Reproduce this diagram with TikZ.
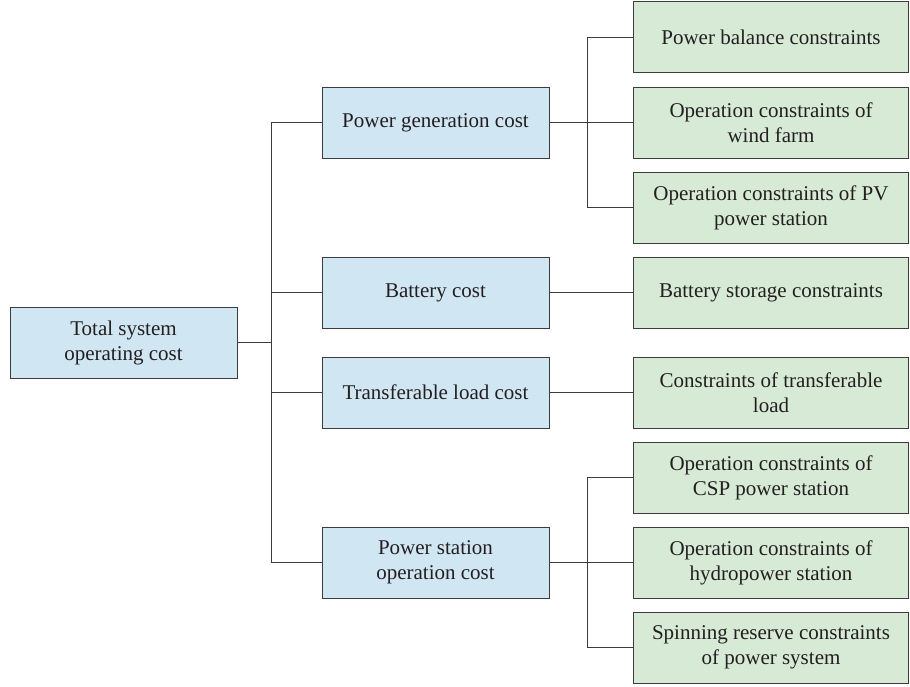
\documentclass[tikz,border=0pt]{standalone}
\usepackage{fontspec}
\setmainfont{Liberation Serif}
\definecolor{bluefill}{HTML}{D1E6F3}
\definecolor{greenfill}{HTML}{D7EAD6}
\definecolor{edgec}{HTML}{3C3C3C}
\definecolor{textc}{HTML}{231F20}
\begin{document}
\begin{tikzpicture}[x=1pt,y=-1pt,
  box/.style={draw=edgec,line width=1pt,minimum height=71pt,inner sep=0pt,align=center,text=textc,font=\fontsize{21}{25}\selectfont},
  bluebox/.style={box,fill=bluefill,minimum width=227pt},
  greenbox/.style={box,fill=greenfill,minimum width=275pt},
  conn/.style={draw=edgec,line width=1pt}]
\useasboundingbox (0,0) rectangle (910,686);
% root
\node[bluebox] (total) at (123.5,342.5) {Total system\\operating cost};
% level 1
\node[bluebox] (gen) at (435.5,122.5) {Power generation cost};
\node[bluebox] (bat) at (435.5,292.5) {Battery cost};
\node[bluebox] (tra) at (435.5,392.5) {Transferable load cost};
\node[bluebox] (sta) at (435.5,562.5) {Power station\\operation cost};
% level 2
\node[greenbox] (g1) at (771,37) {Power balance constraints};
\node[greenbox] (g2) at (771,122.5) {Operation constraints of\\wind farm};
\node[greenbox] (g3) at (771,207.5) {Operation constraints of PV\\power station};
\node[greenbox] (g4) at (771,292.5) {Battery storage constraints};
\node[greenbox] (g5) at (771,392.5) {Constraints of transferable\\load};
\node[greenbox] (g6) at (771,477.5) {Operation constraints of\\CSP power station};
\node[greenbox] (g7) at (771,562.5) {Operation constraints of\\hydropower station};
\node[greenbox] (g8) at (771,647.5) {Spinning reserve constraints\\of power system};
% trunk
\coordinate (tr) at (271,342.5);
\draw[conn] (total.east) -- (tr);
\draw[conn] (gen.west) -| (tr);
\draw[conn] (sta.west) -| (tr);
\draw[conn] (bat.west) -- (bat.west -| tr);
\draw[conn] (tra.west) -- (tra.west -| tr);
% bus 1
\coordinate (b1) at (587,122.5);
\draw[conn] (gen.east) -- (g2.west);
\draw[conn] (g1.west) -| (b1);
\draw[conn] (g3.west) -| (b1);
% single links
\draw[conn] (bat.east) -- (g4.west);
\draw[conn] (tra.east) -- (g5.west);
% bus 2
\coordinate (b2) at (587,562.5);
\draw[conn] (sta.east) -- (g7.west);
\draw[conn] (g6.west) -| (b2);
\draw[conn] (g8.west) -| (b2);
\end{tikzpicture}
\end{document}
